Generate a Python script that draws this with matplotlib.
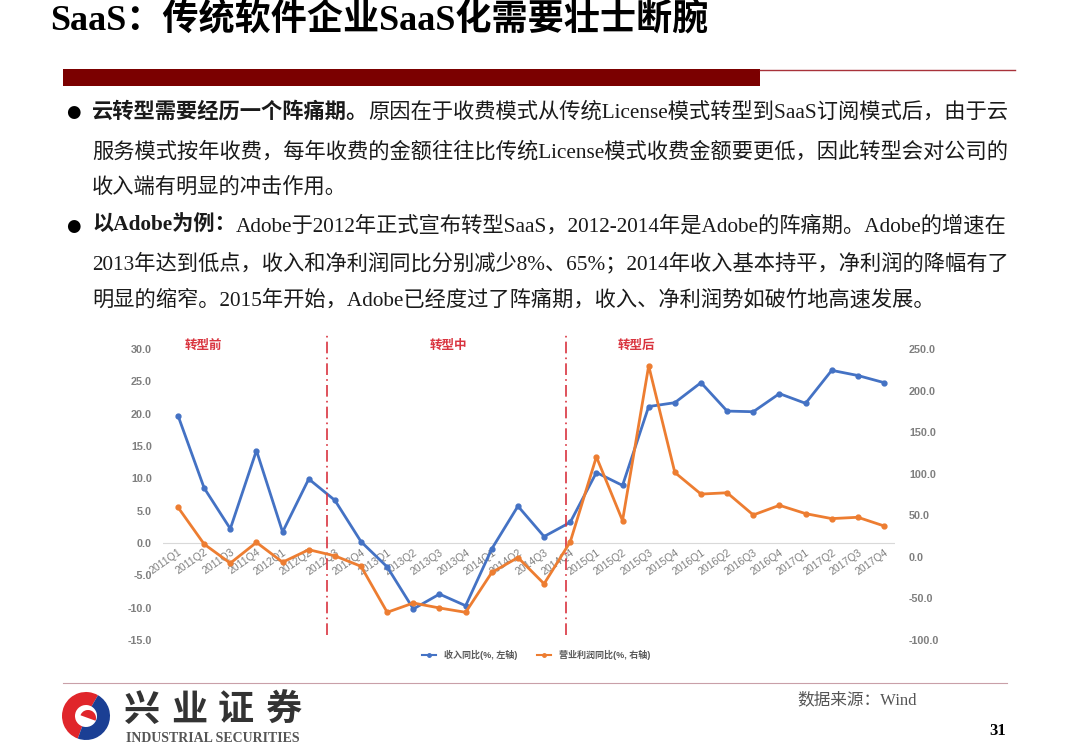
import matplotlib
matplotlib.use("Agg")
import matplotlib.pyplot as plt
from matplotlib.patches import Rectangle, Wedge
from matplotlib.lines import Line2D

plt.rcParams['font.family'] = ['Liberation Serif', 'Noto Sans CJK SC', 'DejaVu Sans']

# ── data ─────────────────────────────────────────────────────────────────────
quarters = [f"{y}Q{q}" for y in range(2011, 2018) for q in range(1, 5)]

revenue_yoy = [19.7, 8.5, 2.2, 14.3, 1.7, 9.9, 6.6, 0.2,
               -3.7, -10.2, -7.9, -9.7, -0.9, 5.7, 1.0, 3.2,
               10.9, 8.9, 21.1, 21.7, 24.8, 20.4, 20.3, 23.1,
               21.6, 26.7, 25.9, 24.8]

op_profit_yoy = [59.6, 15.3, -7.6, 17.4, -6.4, 8.6, 1.2, -11.4,
                 -66.7, -55.5, -61.5, -66.7, -18.8, -0.8, -32.4, 18.0,
                 120.3, 43.6, 229.8, 101.5, 75.5, 77.1, 50.4, 62.0,
                 52.0, 46.0, 47.6, 37.2]

phase_splits = [5.7, 14.84]
phase_names = ["转型前", "转型中", "转型后"]

left_ticks = list(range(-15, 31, 5))
right_ticks = list(range(-100, 251, 50))

BLUE = "#4472C4"
ORANGE = "#ED7D31"
RED = "#d9343f"
TEXT = "#1a1a1a"

# ── canvas (pixel overlay) ───────────────────────────────────────────────────
W, H = 1080, 752
fig = plt.figure(figsize=(W / 100, H / 100), dpi=100)
bg = fig.add_axes([0, 0, 1, 1])
bg.set_xlim(0, W)
bg.set_ylim(H, 0)
bg.axis("off")
renderer = fig.canvas.get_renderer()


def px_rect(x0, y0, x1, y1):
    return [x0 / W, 1 - y1 / H, (x1 - x0) / W, (y1 - y0) / H]


def runs(x, y, parts, size=15.3):
    """Draw a line made of (text, bold) runs one after another."""
    for txt, bold in parts:
        t = bg.text(x, y, txt, fontsize=size, ha="left", va="center",
                    fontweight="bold" if bold else "normal", color=TEXT)
        x += t.get_window_extent(renderer).width


# ── header ───────────────────────────────────────────────────────────────────
bg.text(50, 21, "SaaS：传统软件企业SaaS化需要壮士断腕", fontsize=26,
        fontweight="bold", ha="left", va="center", color="black")
bg.add_patch(Rectangle((63, 69), 697, 17, color="#7b0000", lw=0))
bg.plot([760, 1015], [69.5, 69.5], color="#a8323a", lw=1)

# ── bullets ──────────────────────────────────────────────────────────────────
for yb in (112, 226):
    bg.text(73, yb, "●", fontsize=12, ha="center", va="center", color="black",
            family=["DejaVu Sans"])

runs(92, 112, [("云转型需要经历一个阵痛期。", True),
               ("原因在于收费模式从传统License模式转型到SaaS订阅模式后，由于云", False)])
runs(92, 152, [("服务模式按年收费，每年收费的金额往往比传统License模式收费金额要更低，因此转型会对公司的", False)])
runs(92, 188, [("收入端有明显的冲击作用。", False)])
runs(92, 226, [("以Adobe为例：", True),
               ("Adobe于2012年正式宣布转型SaaS，2012-2014年是Adobe的阵痛期。Adobe的增速在", False)])
runs(92, 263, [("2013年达到低点，收入和净利润同比分别减少8%、65%；2014年收入基本持平，净利润的降幅有了", False)])
runs(92, 300, [("明显的缩窄。2015年开始，Adobe已经度过了阵痛期，收入、净利润势如破竹地高速发展。", False)])

# ── chart ────────────────────────────────────────────────────────────────────
ax = fig.add_axes(px_rect(163, 349, 895, 640))
ax.patch.set_alpha(0)
ax2 = ax.twinx()

x = list(range(len(quarters)))
ax.plot(x, revenue_yoy, color=BLUE, lw=2, marker="o", ms=3.5, zorder=3)
ax2.plot(x, op_profit_yoy, color=ORANGE, lw=2, marker="o", ms=3.5, zorder=2)

ax.set_xlim(-0.574, 27.42)
ax.set_ylim(-15, 30)
ax2.set_ylim(-100, 250)
ax.axhline(0, color="#d9d9d9", lw=0.8, zorder=1)

tick_font = dict(family=["Liberation Sans"], fontsize=7.8, color="#7f7f7f",
                 fontweight="bold")
ax.set_yticks(left_ticks)
ax.set_yticklabels([f"{v:.1f}" for v in left_ticks], **tick_font)
ax2.set_yticks(right_ticks)
ax2.set_yticklabels([f"{v:.1f}" for v in right_ticks], **tick_font)

ax.spines["bottom"].set_position(("data", 0))
ax.set_xticks(x)
ax.set_xticklabels(quarters, rotation=35, ha="right", rotation_mode="anchor",
                   family=["Liberation Sans"], fontsize=7.5, color="#7f7f7f")
for a in (ax, ax2):
    for s in a.spines.values():
        s.set_visible(False)
    a.tick_params(length=0)
ax.tick_params(axis="x", pad=3)
ax.tick_params(axis="y", pad=8)
ax2.tick_params(axis="y", pad=10)

for xv in phase_splits:
    ax.axvline(xv, ymin=0.017, ymax=1.048, color=RED, lw=1.2,
               ls=(0, (7, 2.5, 1, 2.5)), clip_on=False, zorder=4)

for name, xp in zip(phase_names, (203, 448, 636)):
    bg.text(xp, 345, name, fontsize=9, ha="center", va="center",
            color=RED, fontweight="bold", family=["Noto Sans CJK SC"])

handles = [Line2D([], [], color=BLUE, lw=1.5, marker="o", ms=2.5),
           Line2D([], [], color=ORANGE, lw=1.5, marker="o", ms=2.5)]
fig.legend(handles, ["收入同比(%, 左轴)", "营业利润同比(%, 右轴)"],
           loc="center", bbox_to_anchor=(536 / W, 1 - 655 / H), ncol=2,
           frameon=False, handlelength=1.6, columnspacing=2.2,
           prop={"family": ["Liberation Sans", "Noto Sans CJK SC"],
                 "size": 6.5, "weight": "bold"}, labelcolor="#595959")

# ── footer ───────────────────────────────────────────────────────────────────
bg.plot([63, 1007], [683, 683], color="#c9a0a8", lw=0.8)

cx, cy, r = 86, 716, 24
bg.add_patch(Wedge((cx, cy), r, 110, 300, width=13, color="#e0262b", lw=0))
bg.add_patch(Wedge((cx, cy), r, 300, 470, width=13, color="#1b3f94", lw=0))
bg.add_patch(Wedge((cx + 2, cy + 2), 8, 200, 380, color="#e0262b", lw=0))

for i, ch in enumerate("兴业证券"):
    bg.text(142 + i * 47, 710, ch, fontsize=26, fontweight="bold",
            ha="center", va="center", color="#333333",
            family=["Noto Sans CJK SC"])
bg.text(126, 738, "INDUSTRIAL SECURITIES", fontsize=10, fontweight="bold",
        ha="left", va="center", color="#555555")

bg.text(797, 700, "数据来源：Wind", fontsize=12, ha="left", va="center",
        color="#555555")
bg.text(998, 731, "31", fontsize=12, fontweight="bold", ha="center",
        va="center", color="black")

fig.savefig("out.png", dpi=100, facecolor="white")
